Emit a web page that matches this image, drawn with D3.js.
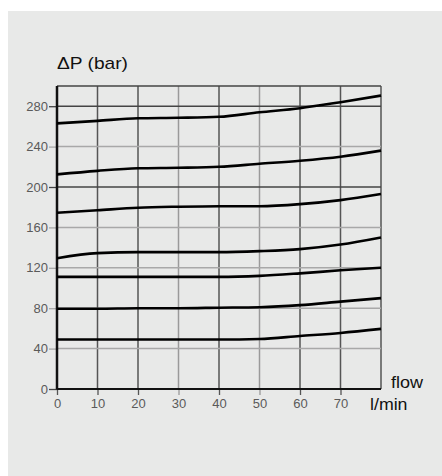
<!DOCTYPE html>
<html><head><meta charset="utf-8">
<script src="https://cdn.jsdelivr.net/npm/d3@7"></script>
<style>html,body{margin:0;padding:0;background:#fff;}svg{display:block;}</style>
</head><body>
<script>
const flows = [0, 10, 20, 30, 40, 50, 60, 70, 80];
const xTicks = [0, 10, 20, 30, 40, 50, 60, 70];
const yTicks = [0, 40, 80, 120, 160, 200, 240, 280];
const curve1 = [263, 265.5, 268, 268.5, 269.5, 274, 278, 284, 290.5];
const curve2 = [212.5, 216, 218.5, 219, 220, 223, 226, 230, 236];
const curve3 = [174.5, 177, 179.5, 180.5, 181, 181, 183, 187, 193];
const curve4 = [129.5, 134.5, 135.5, 135.5, 135.5, 136.5, 138.5, 143, 150];
const curve5 = [111, 111, 111, 111, 111, 112, 114.5, 117.5, 120];
const curve6 = [79.5, 79.5, 80, 80, 80.5, 81, 83, 86.5, 90];
const curve7 = [49, 49, 49, 49, 49, 49.5, 52.5, 55.5, 59.5];
const series = [curve1, curve2, curve3, curve4, curve5, curve6, curve7];
const darkX = [0, 10, 20, 40, 60, 70, 80];
const darkY = [0, 200, 280, 300];

const W = 442, H = 476;
const font = "Liberation Sans, Arial, sans-serif";
const svg = d3.select("body").append("svg").attr("width", W).attr("height", H);
svg.append("rect").attr("x", 8).attr("y", 11).attr("width", W - 8).attr("height", H - 11).attr("fill", "#e8e9e8");

const x = d3.scaleLinear().domain([0, 80]).range([57, 381]);
const y = d3.scaleLinear().domain([0, 300]).range([389, 86]);

const g = svg.append("g");
g.selectAll("line.vg").data([10, 20, 30, 40, 50, 60, 70, 80]).join("line")
  .attr("x1", d => x(d)).attr("x2", d => x(d)).attr("y1", y(0)).attr("y2", y(300))
  .attr("stroke", d => darkX.includes(d) ? "#555" : "#9a9a9a").attr("stroke-width", 1.5);
g.selectAll("line.hg").data([40, 80, 120, 160, 200, 240, 280, 300]).join("line")
  .attr("y1", d => y(d)).attr("y2", d => y(d)).attr("x1", x(0)).attr("x2", x(80))
  .attr("stroke", d => darkY.includes(d) ? "#444" : "#a8a8a8").attr("stroke-width", 1.5);

const yAxis = d3.axisLeft(y).tickValues(yTicks).tickSize(8).tickPadding(1);
const xAxis = d3.axisBottom(x).tickValues(xTicks).tickSize(6).tickPadding(4);
const ya = svg.append("g").attr("transform", `translate(${x(0)},0)`).call(yAxis);
const xa = svg.append("g").attr("transform", `translate(0,${y(0)})`).call(xAxis);
ya.selectAll(".tick line").attr("stroke", d => darkY.includes(d) ? "#444" : "#a8a8a8");
xa.selectAll(".tick line").attr("stroke", d => darkX.includes(d) ? "#555" : "#9a9a9a");
[ya, xa].forEach(a => {
  a.select(".domain").remove();
  a.selectAll(".tick line").attr("stroke-width", 1.3);
  a.selectAll(".tick text").attr("fill", "#5a5a5a").attr("font-family", font).attr("font-size", 13);
});
svg.append("line").attr("x1", x(0)).attr("x2", x(0)).attr("y1", y(0) + 0.5).attr("y2", y(300))
  .attr("stroke", "#111").attr("stroke-width", 2.5);
svg.append("line").attr("x1", x(0)).attr("x2", x(80)).attr("y1", y(0)).attr("y2", y(0))
  .attr("stroke", "#111").attr("stroke-width", 2);

const line = d3.line().x((d, i) => x(flows[i])).y(d => y(d)).curve(d3.curveMonotoneX);
svg.selectAll("path.c").data(series).join("path")
  .attr("d", d => line(d)).attr("fill", "none").attr("stroke", "#000").attr("stroke-width", 2.6);

svg.append("text").attr("x", 57).attr("y", 69).attr("font-family", font).attr("font-size", 17)
  .attr("textLength", 71).attr("lengthAdjust", "spacingAndGlyphs").attr("fill", "#111").text("ΔP (bar)");
svg.append("text").attr("x", 391).attr("y", 388).attr("font-family", font).attr("font-size", 16)
  .attr("textLength", 32).attr("lengthAdjust", "spacingAndGlyphs").attr("fill", "#111").text("flow");
svg.append("text").attr("x", 370).attr("y", 410).attr("font-family", font).attr("font-size", 16)
  .attr("textLength", 37.5).attr("lengthAdjust", "spacingAndGlyphs").attr("fill", "#111").text("l/min");
</script>
</body></html>
